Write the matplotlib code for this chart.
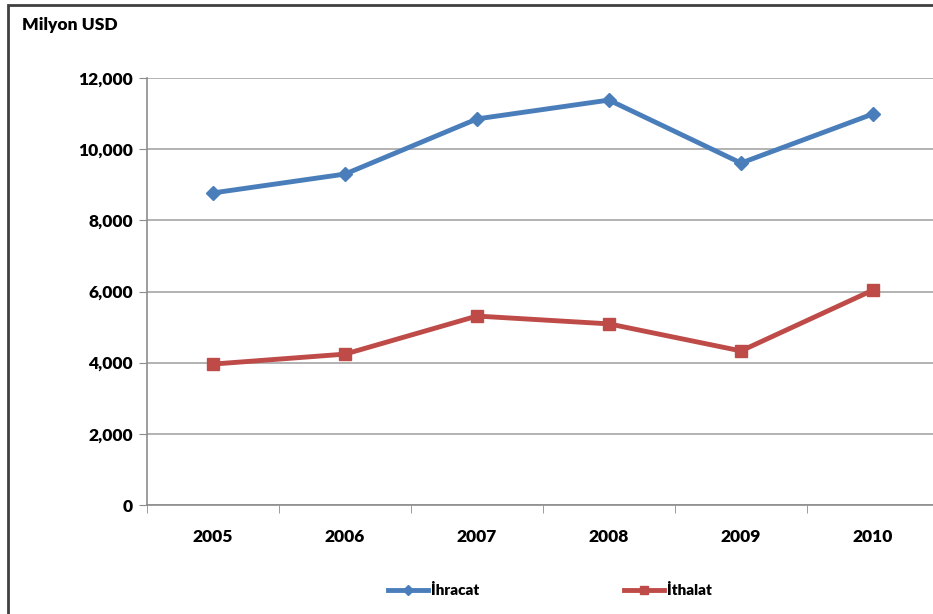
import matplotlib.pyplot as plt
from matplotlib.patches import Rectangle

plt.rcParams['font.family'] = ['Lato', 'DejaVu Sans']
plt.rcParams['font.weight'] = 'heavy'

years = ['2005', '2006', '2007', '2008', '2009', '2010']
ihracat = [8770, 9300, 10850, 11380, 9610, 10990]
ithalat = [3960, 4240, 5310, 5090, 4330, 6040]

blue = '#4A7EBB'
red = '#BE4B48'

fig = plt.figure(figsize=(9.33, 6.14), dpi=100)
ax = fig.add_axes([147/933, 1-505/614, 792/933, 427/614])

x = range(len(years))
ax.plot(x, ihracat, color=blue, lw=3.5, marker='D', ms=7, label='İhracat')
ax.plot(x, ithalat, color=red, lw=3.5, marker='s', ms=8, label='İthalat')

ax.set_xlim(-0.5, len(years) - 0.5)
ax.set_ylim(0, 12000)
ax.set_yticks(range(0, 12001, 2000))
ax.set_yticklabels([f'{v:,}' for v in range(0, 12001, 2000)])
ax.set_xticks(list(x))
ax.set_xticklabels(years)
ax.set_xticks([i - 0.5 for i in range(len(years) + 1)], minor=True)

ax.grid(axis='y', color='#A6A6A6', lw=1.2)
ax.set_axisbelow(True)
for s in ['top', 'right']:
    ax.spines[s].set_visible(False)
for s in ['left', 'bottom']:
    ax.spines[s].set_color('#8C8C8C')
    ax.spines[s].set_linewidth(1.2)

ax.tick_params(axis='x', which='major', length=0, pad=17, labelsize=12.5)
ax.tick_params(axis='x', which='minor', length=6, color='#8C8C8C')
ax.tick_params(axis='y', length=6, color='#8C8C8C', pad=4, labelsize=12.5)

fig.text(22/933, 1-25/614, 'Milyon USD', fontsize=12.5, fontweight='heavy', va='center')

fig.legend(loc='center', bbox_to_anchor=(550/933, 1-590/614), ncol=2, frameon=False,
           handlelength=2.6, handletextpad=0.2, columnspacing=9.5, fontsize=11,
           markerscale=0.75)

# outer chart frame
fig.patches.append(Rectangle((8/933, -0.05), 1.0, 1-5/614+0.05, transform=fig.transFigure,
                             fill=False, edgecolor='#404040', lw=2))

fig.savefig('out.png', dpi=100)
